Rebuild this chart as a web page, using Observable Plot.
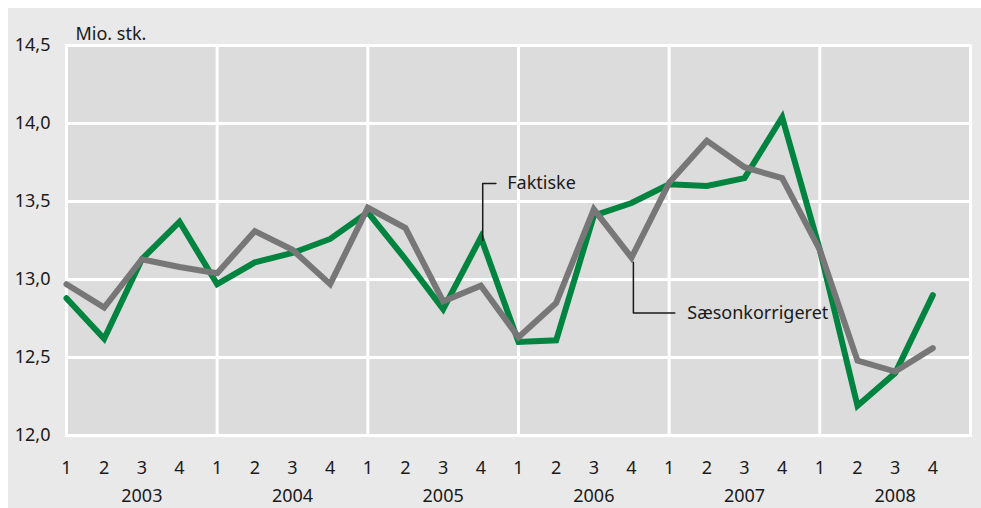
<!DOCTYPE html>
<html>
<head>
<meta charset="utf-8">
<script src="https://cdn.jsdelivr.net/npm/d3@7"></script>
<script src="https://cdn.jsdelivr.net/npm/@observablehq/plot@0.6"></script>
<style>
  html, body { margin: 0; padding: 0; background: #ffffff; }
  #wrap { position: absolute; left: 8px; top: 8px; width: 973px; height: 500px; background: #e9e9e9; overflow: hidden; }
  svg { display: block; }
</style>
</head>
<body>
<div id="wrap"></div>
<script>
// ---- data ----
const years = ["2003", "2004", "2005", "2006", "2007", "2008"];
const quarterLabels = ["1", "2", "3", "4"];
const faktiske = [12.88, 12.62, 13.13, 13.37, 12.97, 13.11, 13.17, 13.26,
                  13.43, 13.13, 12.81, 13.27, 12.60, 12.61, 13.41, 13.49,
                  13.61, 13.60, 13.65, 14.04, 13.19, 12.19, 12.40, 12.90];
const saeson =   [12.97, 12.82, 13.13, 13.08, 13.04, 13.31, 13.19, 12.97,
                  13.46, 13.33, 12.86, 12.96, 12.63, 12.85, 13.45, 13.14,
                  13.62, 13.89, 13.72, 13.65, 13.19, 12.48, 12.41, 12.56];
const yTicks = [12.0, 12.5, 13.0, 13.5, 14.0, 14.5];
const unitLabel = "Mio. stk.";
// annotation leader lines (data coordinates: quarter index, value)
const faktiskeLeader = [[11.05, 13.25], [11.05, 13.615], [11.4, 13.615]];
const faktiskeLabel = {x: 11.7, y: 13.615, text: "Faktiske"};
const saesonLeader = [[15.05, 13.11], [15.05, 12.785], [16.15, 12.785]];
const saesonLabel = {x: 16.48, y: 12.785, text: "Sæsonkorrigeret"};

// ---- derived tables ----
const n = faktiske.length;
const rowsF = faktiske.map((v, i) => ({i, v}));
const rowsS = saeson.map((v, i) => ({i, v}));
const qTicks = d3.range(n).map(i => ({i, label: quarterLabels[i % 4]}));
const yearTicks = years.map((y, k) => ({i: k * 4 + 2, label: y}));
const yearGrid = d3.range(1, years.length).map(k => k * 4);

const font = "'Noto Sans', 'Open Sans', sans-serif";
const green = "#00843f";
const grey = "#777777";
const ink = "#1a1a1a";
const fs = 18;

const chart = Plot.plot({
  width: 973,
  height: 500,
  marginLeft: 58,
  marginRight: 11,
  marginTop: 37,
  marginBottom: 73,
  style: {background: "transparent", fontFamily: font, fontSize: "18px", color: ink},
  x: {domain: [0, n], axis: null},
  y: {domain: [12, 14.5], axis: null},
  marks: [
    Plot.frame({fill: "#dcdcdc", stroke: "#ffffff", strokeWidth: 3}),
    Plot.ruleY(yTicks.slice(1, -1), {stroke: "#ffffff", strokeWidth: 3}),
    Plot.ruleX(yearGrid, {stroke: "#ffffff", strokeWidth: 3}),
    Plot.frame({stroke: "#ffffff", strokeWidth: 3}),
    Plot.line(rowsF, {x: "i", y: "v", stroke: green, strokeWidth: 6, strokeLinejoin: "miter", strokeMiterlimit: 3}),
    Plot.line(rowsS, {x: "i", y: "v", stroke: grey, strokeWidth: 6, strokeLinejoin: "miter", strokeMiterlimit: 3}),
    Plot.line(faktiskeLeader, {x: d => d[0], y: d => d[1], stroke: ink, strokeWidth: 1.5}),
    Plot.line(saesonLeader, {x: d => d[0], y: d => d[1], stroke: ink, strokeWidth: 1.5}),
    Plot.text([faktiskeLabel], {x: "x", y: "y", text: "text", textAnchor: "start", fontSize: fs, fill: ink}),
    Plot.text([saesonLabel], {x: "x", y: "y", text: "text", textAnchor: "start", fontSize: fs, fill: ink}),
    // y tick labels
    Plot.text(yTicks, {x: 0, y: d => d, text: d => d.toFixed(1).replace(".", ","), frameAnchor: "left", textAnchor: "end", dx: -16, fontSize: fs, fill: ink}),
    // quarter labels
    Plot.text(qTicks, {x: "i", text: "label", frameAnchor: "bottom", dy: 38, fontSize: fs, fill: ink}),
    // year labels
    Plot.text(yearTicks, {x: "i", text: "label", frameAnchor: "bottom", dy: 66, fontSize: fs, fill: ink}),
    // unit label
    Plot.text([unitLabel], {frameAnchor: "top-left", text: d => d, textAnchor: "start", dx: 9, dy: -18, fontSize: fs, fill: ink})
  ]
});
document.getElementById("wrap").appendChild(chart);
</script>
</body>
</html>
